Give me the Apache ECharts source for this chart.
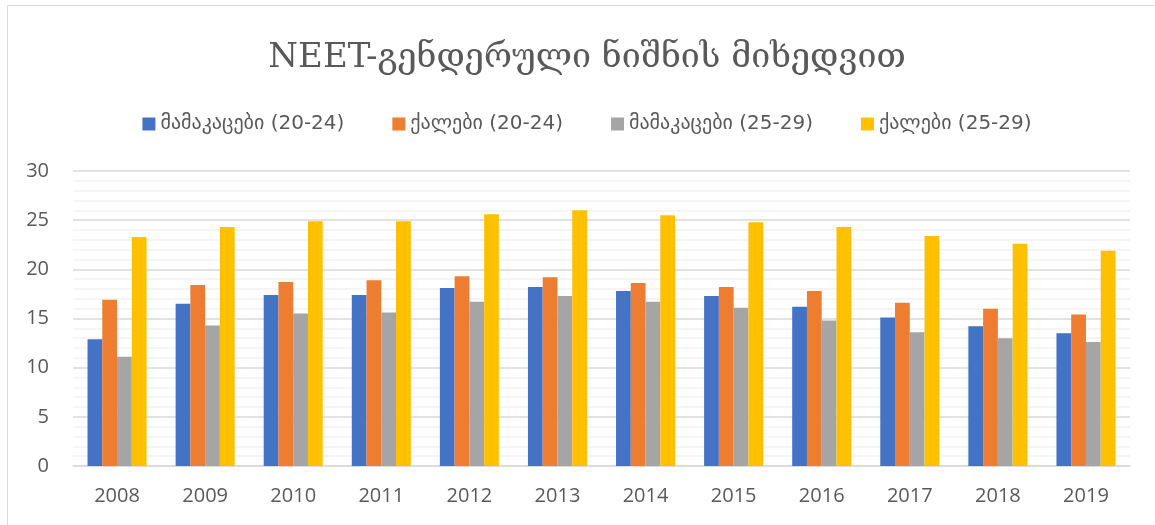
<!DOCTYPE html>
<html>
<head>
<meta charset="utf-8">
<script src="https://cdn.jsdelivr.net/npm/echarts@6/dist/echarts.min.js"></script>
<style>
  html, body { margin: 0; padding: 0; background: #fff; }
  #chart {
    position: absolute; left: 7px; top: 5px;
    width: 1160px; height: 530px;
    border: 1px solid #d9d9d9; box-sizing: border-box;
  }
</style>
</head>
<body>
<div id="chart"></div>
<script>
    'use strict';

    var years = ['2008', '2009', '2010', '2011', '2012', '2013', '2014', '2015', '2016', '2017', '2018', '2019'];

    var seriesNames = ['მამაკაცები (20-24)', 'ქალები (20-24)', 'მამაკაცები (25-29)', 'ქალები (25-29)'];

    var men2024   = [12.9, 16.5, 17.4, 17.4, 18.1, 18.2, 17.8, 17.3, 16.2, 15.1, 14.2, 13.5];
    var women2024 = [16.9, 18.4, 18.7, 18.9, 19.3, 19.2, 18.6, 18.2, 17.8, 16.6, 16.0, 15.4];
    var men2529   = [11.1, 14.3, 15.5, 15.6, 16.7, 17.3, 16.7, 16.1, 14.8, 13.6, 13.0, 12.6];
    var women2529 = [23.3, 24.3, 24.9, 24.9, 25.6, 26.0, 25.5, 24.8, 24.3, 23.4, 22.6, 21.9];

    var colors = ['#4472C4', '#ED7D31', '#A5A5A5', '#FFC000'];
    var values = [men2024, women2024, men2529, women2529];

    var chart = echarts.init(document.getElementById('chart'));

    var series = seriesNames.map(function (name, i) {
        return {
            name: name,
            type: 'bar',
            data: values[i],
            barGap: '0%',
            barCategoryGap: '33%',
            itemStyle: { color: colors[i] }
        };
    });

    chart.setOption({
        animation: false,
        color: colors,
        title: {
            text: 'NEET-გენდერული ნიშნის მიხედვით',
            left: 'center',
            top: 30,
            textStyle: {
                fontFamily: 'DejaVu Serif',
                fontWeight: 'normal',
                fontSize: 34,
                color: '#595959'
            }
        },
        legend: {
            top: 103,
            left: 'center',
            itemWidth: 13,
            itemHeight: 13,
            itemGap: 48,
            icon: 'rect',
            textStyle: {
                fontFamily: 'DejaVu Sans',
                fontSize: 20,
                color: '#595959'
            }
        },
        grid: {
            left: 65,
            right: 36,
            top: 165,
            bottom: 68,
            containLabel: false
        },
        xAxis: {
            type: 'category',
            data: years,
            axisTick: { show: false },
            axisLine: { lineStyle: { color: '#d9d9d9', width: 1.5 } },
            axisLabel: {
                fontFamily: 'Open Sans',
                fontSize: 20,
                color: '#595959',
                margin: 20
            }
        },
        yAxis: {
            type: 'value',
            min: 0,
            max: 30,
            interval: 5,
            axisLabel: {
                fontFamily: 'Open Sans',
                fontSize: 20,
                color: '#595959',
                margin: 24
            },
            splitLine: { lineStyle: { color: '#d9d9d9', width: 1.5 } },
            minorTick: { show: false, splitNumber: 5 },
            minorSplitLine: { show: true, lineStyle: { color: '#f2f2f2', width: 1.5 } }
        },
        series: series
    });
</script>
</body>
</html>
